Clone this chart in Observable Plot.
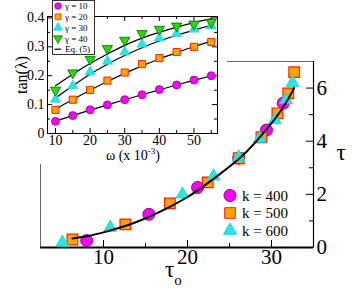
<!DOCTYPE html>
<html><head><meta charset="utf-8">
<script src="https://cdn.jsdelivr.net/npm/d3@7"></script>
<script src="https://cdn.jsdelivr.net/npm/@observablehq/plot@0.6"></script>
<style>
body{margin:0;background:#fff;}
#wrap{position:relative;width:353px;height:295px;overflow:hidden;font-family:"Liberation Serif",serif;}
#wrap svg{position:absolute;left:0;top:0;max-width:none;}
</style></head><body><div id="wrap"></div>
<script>
// ---- main chart data (tau_o vs tau) ----
const k400_tau0 = [8.0, 15.4, 21.2, 26.1, 29.4, 31.4];
const k400_tau  = [0.26, 1.25, 2.26, 3.36, 4.42, 5.43];
const k500_tau0 = [6.3, 12.6, 17.9, 22.4, 26.1, 28.8, 30.7, 32.0, 32.7];
const k500_tau  = [0.30, 0.87, 1.66, 2.45, 3.36, 4.15, 5.05, 5.80, 6.60];
const k600_tau0 = [5.1, 10.8, 19.4, 23.1, 26.1, 28.6, 30.4, 31.7, 32.5];
const k600_tau  = [0.19, 0.75, 2.00, 2.68, 3.40, 4.10, 4.80, 5.55, 6.20];
const fit_tau0  = [6.3, 8, 10, 12, 14, 16, 18, 20, 22, 24, 26, 28, 30, 31, 32, 32.7];
const fit_tau   = [0.34, 0.42, 0.57, 0.75, 0.97, 1.24, 1.55, 1.90, 2.33, 2.80, 3.30, 3.93, 4.68, 5.10, 5.60, 6.00];
const mainLegend = ["k = 400", "k = 500", "k = 600"];
const mainXTicks = [10, 20, 30];
const mainXMinor = [5, 15, 25];
const mainYTicks = [0, 2, 4, 6];
const mainYMinor = [1, 3, 5];

// ---- inset data (omega x 10^-3 vs tan(lambda)) ----
const omega = [10, 15, 20, 25, 30, 35, 40, 45, 50, 55];
const g10 = [0.042, 0.062, 0.082, 0.099, 0.117, 0.134, 0.152, 0.168, 0.185, 0.200];
const g20 = [0.082, 0.117, 0.151, 0.183, 0.211, 0.240, 0.261, 0.282, 0.300, 0.317];
const g30 = [0.118, 0.165, 0.213, 0.250, 0.282, 0.309, 0.330, 0.346, 0.361, 0.372];
const g40 = [0.150, 0.210, 0.257, 0.294, 0.323, 0.346, 0.361, 0.372, 0.379, 0.385];
const fit10 = [0.043, 0.062, 0.081, 0.099, 0.117, 0.134, 0.151, 0.168, 0.184, 0.200];
const fit20 = [0.085, 0.118, 0.150, 0.180, 0.208, 0.234, 0.258, 0.280, 0.301, 0.320];
const fit30 = [0.123, 0.165, 0.205, 0.240, 0.270, 0.297, 0.320, 0.340, 0.358, 0.375];
const fit40 = [0.165, 0.205, 0.242, 0.275, 0.305, 0.330, 0.350, 0.368, 0.384, 0.397];
const insetLegend = ["γ = 10", "γ = 20", "γ = 30", "γ = 40", "Eq. (5)"];
const insetXTicks = [10, 20, 30, 40, 50];
const insetXMinor = [15, 25, 35, 45, 55];
const insetYTicks = [0, 0.1, 0.2, 0.3, 0.4];
const insetYMinor = [0.05, 0.15, 0.25, 0.35];

const FONT = '"Liberation Serif", "Times New Roman", serif';
const zip = (xs, ys) => xs.map((x, i) => ({x, y: ys[i]}));

const sqrt3 = Math.sqrt(3);
const triDown = {draw(ctx, size) {
  const y = -Math.sqrt(size / (sqrt3 * 3));
  ctx.moveTo(0, -y * 2); ctx.lineTo(-sqrt3 * y, y); ctx.lineTo(sqrt3 * y, y); ctx.closePath();
}};

const C = {
  circ: {fill: "#ff00ff", stroke: "#8b008b"},
  sq: {fill: "#ffa500", stroke: "#ff2000"},
  tri: {fill: "#22e8e8", stroke: "#22d0d0"},
  tdn: {fill: "#22dd00", stroke: "#006400"}
};

// ---- main plot ----
const mW = 353, mH = 295, mL = 40, mR = 40, mT = 61, mB = 48;
const fW = mW - mL - mR, fH = mH - mT - mB;
const main = Plot.plot({
  width: mW, height: mH, marginLeft: mL, marginRight: mR, marginTop: mT, marginBottom: mB,
  x: {domain: [2.5, 35]}, y: {domain: [0, 7]},
  style: {fontFamily: FONT, background: "transparent", color: "#000"},
  marks: [
    Plot.frame({stroke: "#666", strokeWidth: 1}),
    Plot.ruleY([0], {stroke: "#000", strokeWidth: 2}),
    Plot.ruleX([35], {stroke: "#000", strokeWidth: 1.2}),
    Plot.tickX(mainXTicks, {x: d => d, insetTop: fH - 7, stroke: "#000"}),
    Plot.tickX(mainXMinor, {x: d => d, insetTop: fH - 4, stroke: "#000"}),
    Plot.tickY(mainYTicks, {y: d => d, insetLeft: fW - 7, stroke: "#000"}),
    Plot.tickY(mainYMinor, {y: d => d, insetLeft: fW - 4, stroke: "#000"}),
    Plot.axisX(mainXTicks, {tickSize: 0, tickPadding: 2, fontSize: 21, fontFamily: FONT, label: null}),
    Plot.axisY(mainYTicks, {anchor: "right", tickSize: 0, tickPadding: 3, fontSize: 21, fontFamily: FONT, label: null}),
    Plot.dot(zip(k400_tau0, k400_tau), {x: "x", y: "y", r: 6, ...C.circ, strokeWidth: 1}),
    Plot.dot(zip(k500_tau0, k500_tau), {x: "x", y: "y", r: 6, symbol: "square", ...C.sq, strokeWidth: 1.2}),
    Plot.dot(zip(k600_tau0, k600_tau), {x: "x", y: "y", r: 4.8, symbol: "triangle", ...C.tri, strokeWidth: 0.8}),
    Plot.line(zip(fit_tau0, fit_tau), {x: "x", y: "y", curve: "natural", stroke: "#000", strokeWidth: 2})
  ]
});

// ---- inset plot ----
const iW = 227, iH = 164, iL = 47, iR = 10, iT = 16, iB = 31;
const ifW = iW - iL - iR, ifH = iH - iT - iB;
const fmt = d => d === 0 ? "0" : d.toFixed(1);
const inset = Plot.plot({
  width: iW, height: iH, marginLeft: iL, marginRight: iR, marginTop: iT, marginBottom: iB,
  x: {domain: [7.7, 56.8]}, y: {domain: [0, 0.405]},
  style: {fontFamily: FONT, background: "#fff", color: "#000"},
  marks: [
    Plot.frame({stroke: "#000", strokeWidth: 1}),
    Plot.tickX(insetXTicks, {x: d => d, insetTop: ifH - 5, stroke: "#000"}),
    Plot.tickX(insetXMinor, {x: d => d, insetTop: ifH - 3, stroke: "#000"}),
    Plot.tickX(insetXTicks, {x: d => d, insetBottom: ifH - 5, stroke: "#000"}),
    Plot.tickX(insetXMinor, {x: d => d, insetBottom: ifH - 3, stroke: "#000"}),
    Plot.tickY(insetYTicks, {y: d => d, insetRight: ifW - 5, stroke: "#000"}),
    Plot.tickY(insetYMinor, {y: d => d, insetRight: ifW - 3, stroke: "#000"}),
    Plot.tickY(insetYTicks, {y: d => d, insetLeft: ifW - 5, stroke: "#000"}),
    Plot.tickY(insetYMinor, {y: d => d, insetLeft: ifW - 3, stroke: "#000"}),
    Plot.axisX(insetXTicks, {tickSize: 0, tickPadding: 2, fontSize: 14, fontFamily: FONT, label: null}),
    Plot.axisY(insetYTicks, {tickSize: 0, tickPadding: 3, fontSize: 14, fontFamily: FONT, label: null, tickFormat: fmt}),
    ...[fit10, fit20, fit30, fit40].map(f =>
      Plot.line(zip(omega, f), {x: "x", y: "y", curve: "natural", stroke: "#000", strokeWidth: 1.2})),
    Plot.dot(zip(omega, g10), {x: "x", y: "y", r: 4, ...C.circ, strokeWidth: 0.8}),
    Plot.dot(zip(omega, g20), {x: "x", y: "y", r: 4, symbol: "square", ...C.sq, strokeWidth: 1}),
    Plot.dot(zip(omega, g30), {x: "x", y: "y", r: 3.8, symbol: "triangle", ...C.tri, strokeWidth: 0.6}),
    Plot.dot(zip(omega, g40), {x: "x", y: "y", r: 3.8, symbol: triDown, ...C.tdn, strokeWidth: 0.8})
  ]
});

const wrap = document.getElementById("wrap");
wrap.appendChild(main);
wrap.appendChild(inset);

// ---- main legend & labels ----
const ms = d3.select(main);
const mg = ms.append("g").attr("text-anchor", "start").attr("font-family", FONT).attr("fill", "#000");
const mSyms = [[d3.symbolCircle, C.circ, 6], [d3.symbolSquare, C.sq, 6], [d3.symbolTriangle, C.tri, 4.8]];
mainLegend.forEach((t, i) => {
  const y = 195.5 + i * 17.5;
  const [sym, col, r] = mSyms[i];
  mg.append("path").attr("d", d3.symbol(sym, Math.PI * r * r)()).attr("transform", `translate(230,${y})`)
    .attr("fill", col.fill).attr("stroke", col.stroke).attr("stroke-width", 1);
  mg.append("text").attr("x", 242).attr("y", y).attr("dy", "0.35em").attr("font-size", 15)
    .attr("text-anchor", "start").text(t);
});
mg.append("text").attr("x", 341).attr("y", 160).attr("text-anchor", "middle").attr("font-size", 23).text("τ");
const xl = mg.append("text").attr("x", 165).attr("y", 277).attr("font-size", 23).attr("text-anchor", "start");
xl.append("tspan").text("τ");
xl.append("tspan").attr("font-size", 15).attr("dy", 8).text("o");

// ---- inset legend & labels ----
const is = d3.select(inset);
const ig = is.append("g").attr("text-anchor", "start").attr("font-family", FONT).attr("fill", "#000");
ig.append("rect").attr("x", 52.5).attr("y", 0.5).attr("width", 42).attr("height", 54)
  .attr("fill", "#fff").attr("stroke", "#333").attr("stroke-width", 1);
const iSyms = [[d3.symbolCircle, C.circ, 3.3], [d3.symbolSquare, C.sq, 3.3], [d3.symbolTriangle, C.tri, 3.3], [triDown, C.tdn, 3.3]];
insetLegend.forEach((t, i) => {
  const y = 6 + i * 10.8;
  if (i < 4) {
    const [sym, col, r] = iSyms[i];
    ig.append("path").attr("d", d3.symbol(sym, Math.PI * r * r)()).attr("transform", `translate(58,${y})`)
      .attr("fill", col.fill).attr("stroke", col.stroke).attr("stroke-width", 0.7);
  } else {
    ig.append("line").attr("x1", 54.5).attr("x2", 61).attr("y1", y).attr("y2", y).attr("stroke", "#000").attr("stroke-width", 1.2);
  }
  ig.append("text").attr("x", 65).attr("y", y).attr("dy", "0.35em").attr("font-size", 9)
    .attr("text-anchor", "start").text(t);
});
const il = ig.append("text").attr("x", 133).attr("y", 160).attr("text-anchor", "middle").attr("font-size", 14);
il.append("tspan").text("ω (x 10");
il.append("tspan").attr("font-size", 9).attr("dy", -6).text("-3");
il.append("tspan").attr("dy", 6).text(")");
ig.append("text").attr("transform", "translate(27,75) rotate(-90)").attr("text-anchor", "middle")
  .attr("font-size", 16).text("tan(λ)");
</script></body></html>
